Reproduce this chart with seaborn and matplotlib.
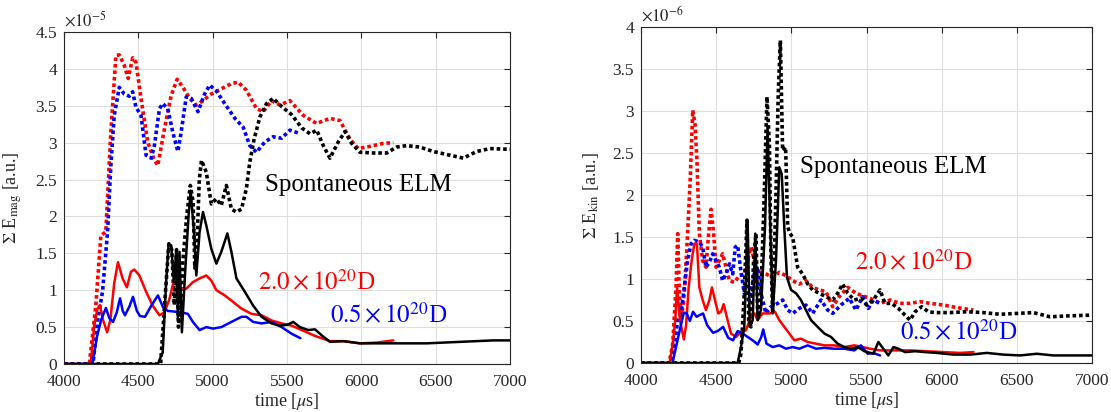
import matplotlib
matplotlib.use("Agg")
import matplotlib.pyplot as plt
import seaborn as sns
from matplotlib.ticker import FuncFormatter, MultipleLocator

# ---------------- data: left panel, sum E_mag (units of 1e-5) ----------------
mag_red_dot_t = [4000, 4170, 4214, 4248, 4281, 4315, 4349, 4372, 4405, 4432, 4462, 4484, 4518, 4563, 4604, 4631,
                 4676, 4721, 4761, 4800, 4845, 4890, 4935, 4991, 5058, 5126, 5171, 5227, 5295, 5340, 5396, 5453,
                 5520, 5609, 5699, 5789, 5856, 5923, 5979, 6058, 6148, 6215]
mag_red_dot_v = [0, 0, 0.79, 1.74, 1.79, 3.14, 4.18, 4.19, 4.05, 3.87, 4.15, 4.09, 3.60, 3.01, 2.78, 2.69,
                 3.19, 3.64, 3.86, 3.75, 3.60, 3.51, 3.57, 3.66, 3.73, 3.80, 3.82, 3.71, 3.46, 3.42, 3.57, 3.51,
                 3.57, 3.37, 3.26, 3.33, 3.30, 3.05, 2.92, 2.95, 2.99, 3.00]

mag_blue_dot_t = [4000, 4195, 4225, 4259, 4293, 4315, 4338, 4372, 4405, 4439, 4462, 4484, 4518, 4552, 4586, 4608,
                  4642, 4664, 4698, 4732, 4766, 4788, 4822, 4856, 4901, 4946, 4980, 5025, 5081, 5149, 5205, 5250,
                  5295, 5351, 5407, 5463, 5520, 5590]
mag_blue_dot_v = [0, 0, 0.57, 0.98, 1.79, 2.69, 3.37, 3.75, 3.66, 3.63, 3.69, 3.48, 3.37, 2.83, 2.79, 2.96,
                  3.46, 3.53, 3.46, 3.14, 2.88, 3.14, 3.62, 3.60, 3.42, 3.66, 3.78, 3.70, 3.53, 3.33, 3.21, 2.96,
                  2.87, 3.01, 3.08, 3.06, 3.17, 3.12]

mag_black_dot_t = [4000, 4650, 4680, 4705, 4725, 4742, 4757, 4770, 4785, 4800, 4825, 4850, 4868, 4880, 4892, 4910,
                   4925, 4957, 4991, 5025, 5058, 5092, 5126, 5160, 5194, 5227, 5250, 5279, 5318, 5362, 5407, 5464,
                   5531, 5599, 5655, 5700, 5744, 5789, 5845, 5890, 5935, 5991, 6080, 6170, 6237, 6305, 6394, 6484,
                   6596, 6686, 6775, 6865, 7000]
mag_black_dot_v = [0, 0, 0.9, 1.63, 1.55, 0.8, 1.55, 0.5, 0.8, 1.4, 2.0, 2.42, 2.2, 1.3, 1.5, 2.5,
                   2.76, 2.60, 2.17, 2.24, 2.15, 2.42, 2.10, 2.06, 2.10, 2.38, 2.74, 3.05, 3.35, 3.53, 3.60, 3.49,
                   3.38, 3.20, 3.12, 3.17, 2.96, 2.79, 3.01, 3.15, 2.99, 2.87, 2.86, 2.86, 2.94, 2.96, 2.94, 2.88,
                   2.83, 2.79, 2.88, 2.92, 2.91]

mag_black_t = [4000, 4631, 4664, 4687, 4703, 4721, 4739, 4755, 4766, 4777, 4793, 4815, 4838, 4852, 4874, 4890,
               4912, 4935, 4957, 4991, 5025, 5058, 5099, 5126, 5160, 5216, 5273, 5329, 5396, 5450, 5500, 5542,
               5587, 5643, 5688, 5733, 5789, 5879, 5991, 6103, 6215, 6327, 6439, 6551, 6663, 6775, 6887, 7000]
mag_black_v = [0, 0, 0.16, 1.11, 1.61, 1.61, 1.11, 1.52, 0.61, 1.52, 0.43, 1.25, 2.01, 2.35, 1.79, 1.20,
               1.79, 2.06, 1.88, 1.56, 1.36, 1.52, 1.77, 1.52, 1.16, 0.98, 0.79, 0.64, 0.55, 0.52, 0.53, 0.57,
               0.50, 0.46, 0.47, 0.39, 0.30, 0.31, 0.28, 0.28, 0.28, 0.28, 0.28, 0.29, 0.30, 0.31, 0.32, 0.32]

mag_red_t = [4000, 4180, 4203, 4225, 4242, 4262, 4290, 4312, 4338, 4363, 4394, 4423, 4450, 4473, 4507, 4552,
             4597, 4642, 4676, 4709, 4743, 4761, 4784, 4822, 4867, 4912, 4957, 4991, 5025, 5081, 5126, 5194,
             5261, 5329, 5396, 5464, 5531, 5599, 5689, 5789, 5879, 5991, 6103, 6215]
mag_red_v = [0, 0, 0.52, 0.75, 0.80, 0.60, 0.43, 0.60, 1.10, 1.38, 1.16, 1.04, 1.25, 1.28, 1.20, 0.98,
             0.79, 0.66, 0.70, 0.88, 1.16, 1.18, 1.02, 1.02, 1.11, 1.16, 1.20, 1.13, 1.00, 0.93, 0.86, 0.75,
             0.68, 0.66, 0.59, 0.55, 0.52, 0.46, 0.38, 0.31, 0.31, 0.28, 0.29, 0.32]

mag_blue_t = [4000, 4191, 4222, 4250, 4282, 4305, 4330, 4355, 4377, 4395, 4410, 4440, 4464, 4490, 4511, 4545,
              4590, 4632, 4666, 4698, 4743, 4788, 4833, 4867, 4912, 4957, 5002, 5058, 5126, 5194, 5227, 5273,
              5329, 5396, 5464, 5531, 5590]
mag_blue_v = [0, 0, 0.37, 0.60, 0.76, 0.62, 0.57, 0.70, 0.89, 0.72, 0.66, 0.78, 0.91, 0.72, 0.65, 0.64,
              0.80, 0.93, 0.77, 0.72, 0.71, 0.70, 0.68, 0.57, 0.46, 0.50, 0.48, 0.50, 0.57, 0.64, 0.64, 0.57,
              0.55, 0.57, 0.50, 0.41, 0.35]

# ---------------- data: right panel, sum E_kin (units of 1e-6) ----------------
kin_red_dot_t = [4000, 4188, 4211, 4233, 4244, 4255, 4270, 4288, 4310, 4328, 4344, 4359, 4372, 4388, 4410, 4432,
                 4450, 4466, 4483, 4499, 4521, 4543, 4565, 4588, 4621, 4654, 4687, 4732, 4765, 4798, 4831, 4876,
                 4920, 4964, 5009, 5053, 5097, 5142, 5186, 5230, 5275, 5319, 5375, 5430, 5490, 5524, 5590, 5657,
                 5723, 5790, 5856, 5923, 6011, 6100, 6211]
kin_red_dot_v = [0, 0, 0.23, 0.90, 1.54, 0.83, 0.55, 0.83, 1.54, 2.21, 3.01, 2.85, 2.41, 1.54, 1.22, 1.14,
                 1.54, 1.83, 1.54, 1.14, 1.22, 1.30, 1.14, 0.98, 0.96, 1.04, 1.06, 1.38, 1.14, 1.08, 1.06, 1.02,
                 1.08, 1.04, 0.98, 0.94, 0.98, 0.90, 0.87, 0.85, 0.67, 0.79, 0.90, 0.83, 0.79, 0.77, 0.71, 0.75,
                 0.71, 0.71, 0.73, 0.71, 0.69, 0.66, 0.63]

kin_blue_dot_t = [4000, 4200, 4222, 4244, 4266, 4288, 4310, 4333, 4355, 4388, 4410, 4432, 4455, 4477, 4499, 4521,
                  4543, 4565, 4588, 4610, 4627, 4643, 4661, 4687, 4720, 4754, 4776, 4798, 4831, 4865, 4909, 4942,
                  4976, 5009, 5053, 5097, 5142, 5197, 5242, 5275, 5330, 5386, 5430, 5474, 5512, 5546, 5590]
kin_blue_dot_v = [0, 0, 0.19, 0.51, 0.59, 0.90, 1.22, 1.42, 1.46, 1.44, 1.38, 1.14, 1.20, 1.30, 1.22, 1.14,
                  0.98, 1.06, 1.18, 1.06, 1.38, 1.40, 1.14, 0.83, 0.75, 1.06, 1.14, 0.83, 0.59, 0.67, 0.71, 0.75,
                  0.63, 0.59, 0.65, 0.69, 0.59, 0.75, 0.63, 0.59, 0.69, 0.77, 0.63, 0.79, 0.65, 0.75, 0.71]

kin_black_dot_t = [4000, 4650, 4665, 4687, 4705, 4716, 4732, 4749, 4765, 4776, 4798, 4820, 4838, 4854, 4865, 4876,
                   4898, 4913, 4927, 4942, 4962, 4976, 4991, 5009, 5042, 5075, 5109, 5142, 5186, 5230, 5275, 5308,
                   5341, 5375, 5419, 5463, 5501, 5546, 5590, 5623, 5667, 5712, 5756, 5790, 5823, 5867, 5911, 5956,
                   6056, 6166, 6277, 6388, 6499, 6610, 6720, 6831, 7000]
kin_black_dot_v = [0, 0, 0.11, 0.83, 1.70, 0.51, 0.43, 1.22, 1.54, 0.55, 0.83, 2.02, 3.17, 2.61, 1.22, 0.59,
                   2.02, 3.21, 3.84, 2.53, 2.57, 1.62, 1.54, 1.50, 1.14, 1.06, 0.94, 0.87, 0.83, 0.79, 0.75, 0.83,
                   0.94, 0.83, 0.75, 0.77, 0.69, 0.75, 0.87, 0.71, 0.71, 0.65, 0.57, 0.51, 0.61, 0.67, 0.61, 0.60,
                   0.60, 0.61, 0.60, 0.58, 0.59, 0.60, 0.55, 0.56, 0.57]

kin_black_t = [4000, 4643, 4665, 4687, 4698, 4709, 4723, 4743, 4760, 4776, 4798, 4825, 4842, 4860, 4876, 4898,
               4920, 4936, 4953, 4971, 4998, 5031, 5064, 5097, 5131, 5175, 5220, 5264, 5308, 5353, 5397, 5441,
               5486, 5546, 5579, 5612, 5645, 5679, 5712, 5756, 5823, 5889, 5967, 6078, 6189, 6300, 6410, 6521,
               6632, 6743, 6876, 7000]
kin_black_v = [0, 0, 0.19, 0.43, 1.02, 1.70, 0.43, 0.51, 1.54, 0.51, 0.63, 1.62, 2.81, 1.62, 0.59, 1.22,
               2.33, 2.25, 1.62, 1.02, 0.87, 0.83, 0.75, 0.63, 0.51, 0.43, 0.35, 0.31, 0.23, 0.19, 0.17, 0.19,
               0.14, 0.11, 0.25, 0.17, 0.09, 0.19, 0.17, 0.13, 0.14, 0.13, 0.12, 0.10, 0.10, 0.12, 0.10, 0.09,
               0.11, 0.09, 0.09, 0.09]

kin_red_t = [4000, 4190, 4211, 4228, 4240, 4259, 4285, 4300, 4317, 4337, 4355, 4372, 4388, 4410, 4432, 4455,
             4472, 4492, 4514, 4532, 4550, 4576, 4599, 4632, 4665, 4698, 4738, 4754, 4776, 4809, 4854, 4891,
             4920, 4953, 4987, 5020, 5064, 5109, 5164, 5220, 5286, 5353, 5419, 5474, 5524, 5590, 5679, 5790,
             5900, 6011, 6122, 6211]
kin_red_v = [0, 0, 0.23, 0.51, 0.90, 0.51, 0.28, 0.45, 0.90, 1.22, 1.42, 1.42, 0.90, 0.75, 0.63, 0.75,
             0.90, 0.75, 0.59, 0.61, 0.70, 0.51, 0.35, 0.31, 0.37, 0.39, 0.58, 0.59, 0.51, 0.59, 0.59, 0.61,
             0.51, 0.43, 0.35, 0.27, 0.29, 0.25, 0.23, 0.21, 0.21, 0.19, 0.21, 0.19, 0.17, 0.15, 0.15, 0.15,
             0.14, 0.13, 0.12, 0.13]

kin_blue_t = [4000, 4210, 4233, 4259, 4285, 4304, 4325, 4346, 4370, 4390, 4413, 4440, 4479, 4510, 4546, 4580,
              4612, 4643, 4670, 4709, 4743, 4776, 4800, 4813, 4835, 4876, 4920, 4964, 5009, 5053, 5109, 5164,
              5220, 5286, 5353, 5419, 5463, 5508, 5545, 5590]
kin_blue_v = [0, 0, 0.19, 0.40, 0.60, 0.59, 0.50, 0.61, 0.55, 0.57, 0.59, 0.45, 0.36, 0.38, 0.43, 0.30,
              0.27, 0.38, 0.36, 0.31, 0.27, 0.22, 0.31, 0.40, 0.23, 0.19, 0.21, 0.17, 0.19, 0.17, 0.21, 0.17,
              0.18, 0.17, 0.17, 0.15, 0.21, 0.11, 0.12, 0.09]

x_ticks = [4000, 4500, 5000, 5500, 6000, 6500, 7000]

# ---------------- style ----------------
sns.set_style("whitegrid")
plt.rcParams["font.family"] = ["Liberation Serif", "DejaVu Serif"]
plt.rcParams["mathtext.fontset"] = "stix"

TXT = "#262626"
fig = plt.figure(figsize=(11.11, 4.12), dpi=100)
axL = fig.add_axes([64 / 1111, 48 / 412, 446 / 1111, 332 / 412])
axR = fig.add_axes([641 / 1111, 49 / 412, 451 / 1111, 336 / 412])

DOT = (0, (1.0, 0.8))


def draw(ax, series):
    for t, v, col, dotted in series:
        if dotted:
            sns.lineplot(x=t, y=v, ax=ax, color=col, lw=2.6, linestyle=DOT,
                         estimator=None, sort=False)
        else:
            sns.lineplot(x=t, y=v, ax=ax, color=col, lw=1.8, linestyle="-",
                         estimator=None, sort=False)


draw(axL, [
    (mag_red_dot_t, mag_red_dot_v, "#ff0000", True),
    (mag_blue_dot_t, mag_blue_dot_v, "#0000ff", True),
    (mag_black_dot_t, mag_black_dot_v, "#000000", True),
    (mag_red_t, mag_red_v, "#ff0000", False),
    (mag_blue_t, mag_blue_v, "#0000ff", False),
    (mag_black_t, mag_black_v, "#000000", False),
])
draw(axR, [
    (kin_red_dot_t, kin_red_dot_v, "#ff0000", True),
    (kin_blue_dot_t, kin_blue_dot_v, "#0000ff", True),
    (kin_black_dot_t, kin_black_dot_v, "#000000", True),
    (kin_red_t, kin_red_v, "#ff0000", False),
    (kin_blue_t, kin_blue_v, "#0000ff", False),
    (kin_black_t, kin_black_v, "#000000", False),
])

fmt = FuncFormatter(lambda v, p: f"{v:g}")
for ax, ymax, exp, ylab in [(axL, 4.5, "-5", r"$\Sigma$ E$_{\mathrm{mag}}$ [a.u.]"),
                            (axR, 4.0, "-6", r"$\Sigma$ E$_{\mathrm{kin}}$ [a.u.]")]:
    ax.set_xlim(4000, 7000)
    ax.set_ylim(0, ymax)
    ax.set_xticks(x_ticks)
    ax.yaxis.set_major_locator(MultipleLocator(0.5))
    ax.yaxis.set_major_formatter(fmt)
    ax.grid(True, color="#dedede", lw=0.8)
    ax.set_facecolor("white")
    for s in ax.spines.values():
        s.set_visible(True)
        s.set_color(TXT)
        s.set_linewidth(0.8)
    ax.tick_params(axis="both", which="major", direction="in", length=4, width=0.8,
                   colors=TXT, labelsize=12.5, top=True, right=True, labeltop=False, labelright=False)
    ax.tick_params(axis="x", pad=7)
    ax.tick_params(axis="y", pad=5)
    for lab in ax.get_xticklabels() + ax.get_yticklabels():
        lab.set_color(TXT)
    ax.set_xlabel(r"time [$\mu$s]", fontsize=13, color=TXT, labelpad=1)
    ax.set_ylabel(ylab, fontsize=13, color=TXT, labelpad=8)
    ax.text(0.0, 1.005, r"$\times10^{" + exp + r"}$", transform=ax.transAxes,
            fontsize=12, color=TXT, ha="left", va="bottom")

# annotations
axL.text(5352, 2.43, "Spontaneous ELM", fontsize=18, color="black", va="center", ha="left")
axL.text(5305, 1.10, r"$2.0\times10^{20}$D", fontsize=18, color="#ff0000", va="center", ha="left")
axL.text(5789, 0.65, r"$0.5\times10^{20}$D", fontsize=18, color="#0000ff", va="center", ha="left")
axR.text(5058, 2.33, "Spontaneous ELM", fontsize=18, color="black", va="center", ha="left")
axR.text(5424, 1.20, r"$2.0\times10^{20}$D", fontsize=18, color="#ff0000", va="center", ha="left")
axR.text(5723, 0.36, r"$0.5\times10^{20}$D", fontsize=18, color="#0000ff", va="center", ha="left")

fig.savefig("out.png", dpi=100, facecolor="white")
